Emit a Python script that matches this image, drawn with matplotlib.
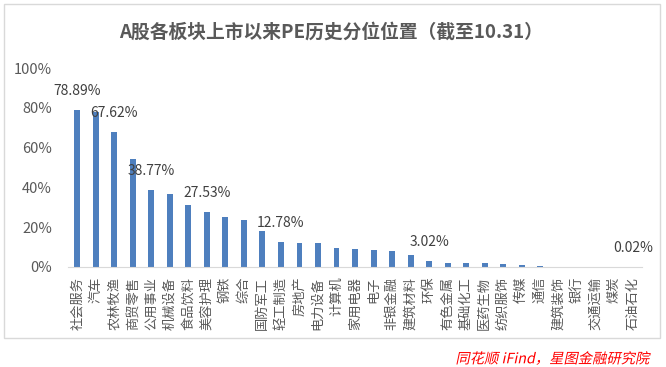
import matplotlib.pyplot as plt
from matplotlib.patches import Rectangle, PathPatch
from matplotlib.textpath import TextPath
from matplotlib.font_manager import FontProperties
from matplotlib.transforms import Affine2D
from matplotlib.ticker import PercentFormatter

plt.rcParams['font.family'] = ['Noto Sans CJK SC', 'DejaVu Sans']

sectors = ['社会服务', '汽车', '农林牧渔', '商贸零售', '公用事业', '机械设备', '食品饮料',
           '美容护理', '钢铁', '综合', '国防军工', '轻工制造', '房地产', '电力设备',
           '计算机', '家用电器', '电子', '非银金融', '建筑材料', '环保', '有色金属',
           '基础化工', '医药生物', '纺织服饰', '传媒', '通信', '建筑装饰', '银行',
           '交通运输', '煤炭', '石油石化']
pe_pct = [78.89, 78.0, 67.62, 54.3, 38.77, 36.6, 31.1, 27.53, 25.2, 23.6, 18.0,
          12.78, 12.0, 12.0, 9.5, 9.0, 8.5, 8.0, 6.0, 3.02, 2.0, 2.0, 1.9, 1.5,
          1.0, 0.5, 0.0, 0.0, 0.0, 0.0, 0.02]
labelled = ['社会服务', '农林牧渔', '公用事业', '美容护理', '轻工制造', '环保', '石油石化']
source = '同花顺 iFind，星图金融研究院'

DPI = 100
fig = plt.figure(figsize=(6.66, 3.67), dpi=DPI)
ax = fig.add_axes([0.1021, 0.2725, 0.862, 0.5422])

x = range(len(sectors))
ax.bar(x, pe_pct, width=0.32, color='#4e7fbe')
for i, (name, v) in enumerate(zip(sectors, pe_pct)):
    if name in labelled:
        ax.annotate(f'{v:.2f}%', (i, v), xytext=(0, 13.7), textcoords='offset points',
                    ha='center', va='center', fontsize=10, color='#404040')

ax.set_xlim(-0.5, len(sectors) - 0.5)
ax.set_ylim(0, 100)
ax.set_yticks([0, 20, 40, 60, 80, 100])
ax.yaxis.set_major_formatter(PercentFormatter(decimals=0))
ax.set_xticks(list(x))
ax.set_xticklabels(sectors, rotation=90, fontsize=9.5, color='#595959')
ax.tick_params(axis='y', length=0, pad=11.5, labelsize=10.5, labelcolor='#595959')
ax.tick_params(axis='x', length=0, pad=7)
for s in ['top', 'right', 'left']:
    ax.spines[s].set_visible(False)
ax.spines['bottom'].set_color('#d9d9d9')

fig.text(0.497, 0.913, 'A股各板块上市以来PE历史分位位置（截至10.31）', ha='center', va='center',
         fontsize=13.5, fontweight='bold', color='#595959')

# 来源文字：CJK 字体没有斜体，用倾斜的文字路径模拟
tp = TextPath((0, 0), source, size=10.3, prop=FontProperties(family=['Noto Sans CJK SC', 'DejaVu Sans']))
ext = tp.get_extents()
sc = DPI / 72
tr = (Affine2D().translate(-ext.x1, -(ext.y0 + ext.y1) / 2).skew_deg(12, 0).scale(sc)
      .translate(650, 367 - 358))
fig.patches.append(PathPatch(tp, transform=tr, facecolor='#ff0000', edgecolor='none'))

fig.patches.append(Rectangle((4 / 666, 29 / 367), 656 / 666, 334 / 367, transform=fig.transFigure,
                             fill=False, edgecolor='#d9d9d9', linewidth=1))

fig.savefig('out.png', dpi=DPI)
